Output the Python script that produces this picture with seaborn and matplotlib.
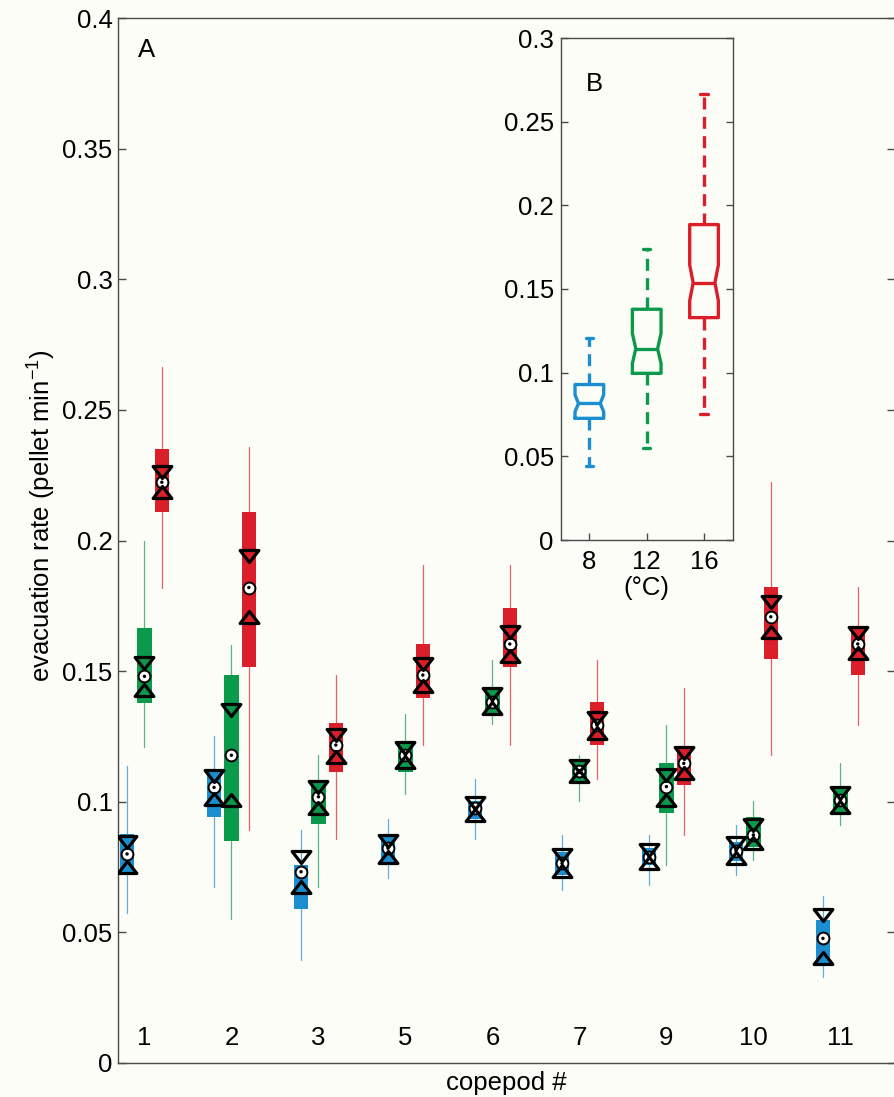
import numpy as np
import matplotlib
matplotlib.use("Agg")
import matplotlib.pyplot as plt
from matplotlib.path import Path
import pandas as pd
import seaborn as sns

# ---------------------------------------------------------------- data
copepods = ["1", "2", "3", "5", "6", "7", "9", "10", "11"]
temperatures = ["8", "12", "16"]

# 8 °C, per copepod: whisker high, q3, upper notch, median, lower notch, q1, whisker low
hi_8 = [0.1137, 0.1253, 0.0892, 0.0933, 0.1086, 0.0873, 0.0873, 0.0911, 0.0639]
q3_8 = [0.0875, 0.1119, 0.0758, 0.0873, 0.1004, 0.0809, 0.0822, 0.0847, 0.0547]
nhi_8 = [0.0847, 0.1099, 0.0790, 0.0851, 0.0994, 0.0796, 0.0815, 0.0841, 0.0567]
med_8 = [0.0800, 0.1055, 0.0732, 0.0822, 0.0975, 0.0764, 0.0790, 0.0813, 0.0477]
nlo_8 = [0.0750, 0.1012, 0.0675, 0.0790, 0.0949, 0.0736, 0.0764, 0.0784, 0.0401]
q1_8 = [0.0718, 0.0942, 0.0588, 0.0764, 0.0933, 0.0720, 0.0758, 0.0775, 0.0375]
lo_8 = [0.0573, 0.0672, 0.0394, 0.0707, 0.0856, 0.0662, 0.0681, 0.0720, 0.0330]

# 12 °C
hi_12 = [0.2000, 0.1600, 0.1179, 0.1336, 0.1543, 0.1179, 0.1294, 0.1004, 0.1147]
q3_12 = [0.1665, 0.1485, 0.1083, 0.1224, 0.1430, 0.1153, 0.1147, 0.0943, 0.1051]
nhi_12 = [0.1532, 0.1353, 0.1058, 0.1205, 0.1412, 0.1137, 0.1102, 0.0911, 0.1035]
med_12 = [0.1480, 0.1178, 0.1019, 0.1179, 0.1383, 0.1119, 0.1058, 0.0873, 0.1007]
nlo_12 = [0.1427, 0.1005, 0.0975, 0.1153, 0.1358, 0.1099, 0.1007, 0.0841, 0.0979]
q1_12 = [0.1379, 0.0850, 0.0915, 0.1115, 0.1341, 0.1081, 0.0956, 0.0826, 0.0958]
lo_12 = [0.1210, 0.0552, 0.0672, 0.1030, 0.1298, 0.1004, 0.0758, 0.0777, 0.0911]

# 16 °C
hi_16 = [0.2665, 0.2359, 0.1485, 0.1906, 0.1906, 0.1543, 0.1434, 0.2225, 0.1821]
q3_16 = [0.2352, 0.2108, 0.1303, 0.1604, 0.1743, 0.1383, 0.1213, 0.1823, 0.1670]
nhi_16 = [0.2263, 0.1941, 0.1256, 0.1527, 0.1651, 0.1319, 0.1185, 0.1766, 0.1645]
med_16 = [0.2223, 0.1820, 0.1217, 0.1485, 0.1604, 0.1294, 0.1147, 0.1708, 0.1604]
nlo_16 = [0.2185, 0.1707, 0.1173, 0.1443, 0.1558, 0.1262, 0.1109, 0.1651, 0.1568]
q1_16 = [0.2110, 0.1516, 0.1115, 0.1396, 0.1515, 0.1217, 0.1064, 0.1545, 0.1485]
lo_16 = [0.1820, 0.0892, 0.0856, 0.1217, 0.1217, 0.1086, 0.0873, 0.1179, 0.1294]

# all copepods pooled, per temperature (8, 12, 16 °C)
pool_hi = [0.1210, 0.1740, 0.2663]
pool_q3 = [0.0929, 0.1379, 0.1885]
pool_nhi = [0.0868, 0.1235, 0.1644]
pool_med = [0.0816, 0.1143, 0.1538]
pool_nlo = [0.0767, 0.1055, 0.1430]
pool_q1 = [0.0727, 0.0996, 0.1329]
pool_lo = [0.0441, 0.0549, 0.0753]

main_ticks = [0, 0.05, 0.1, 0.15, 0.2, 0.25, 0.3, 0.35, 0.4]
main_ticklabels = ["0", "0.05", "0.1", "0.15", "0.2", "0.25", "0.3", "0.35", "0.4"]
inset_ticks = [0, 0.05, 0.1, 0.15, 0.2, 0.25, 0.3]
inset_ticklabels = ["0", "0.05", "0.1", "0.15", "0.2", "0.25", "0.3"]

# ---------------------------------------------------------------- style
sns.set_style("ticks")
plt.rcParams["font.family"] = ["Liberation Sans", "DejaVu Sans"]
plt.rcParams["mathtext.default"] = "regular"
for key in ("text.color", "axes.labelcolor", "xtick.labelcolor", "ytick.labelcolor"):
    plt.rcParams[key] = "black"
BG = "#FDFDF8"
AXC = "#4A4A4A"
FS = 18.5
palette = ["#1A8ECF", "#0B9A4B", "#DA1F2B"]

fig = plt.figure(figsize=(8.94, 10.97), dpi=100, facecolor=BG)

W, H = 894.0, 1097.0
ax = fig.add_axes([118 / W, 34 / H, 777 / W, 1045 / H], facecolor=BG)

series = [
    (hi_8, q3_8, nhi_8, med_8, nlo_8, q1_8, lo_8),
    (hi_12, q3_12, nhi_12, med_12, nlo_12, q1_12, lo_12),
    (hi_16, q3_16, nhi_16, med_16, nlo_16, q1_16, lo_16),
]

# triangle markers for the notch limits (wider than tall)
tri_down = Path([(-1, 0.64), (1, 0.64), (0, -0.64), (-1, 0.64)],
                [Path.MOVETO, Path.LINETO, Path.LINETO, Path.CLOSEPOLY])
tri_up = Path([(-1, -0.64), (1, -0.64), (0, 0.64), (-1, -0.64)],
              [Path.MOVETO, Path.LINETO, Path.LINETO, Path.CLOSEPOLY])

rows = []
for j, (vals, color) in enumerate(zip(series, palette)):
    hi, q3, nhi, med, nlo, q1, lo = vals
    pos = [5 * k + j for k in range(len(copepods))]
    stats = [dict(med=m, q1=a, q3=b, whislo=l, whishi=h, cilo=cl, cihi=ch, fliers=[])
             for m, a, b, l, h, cl, ch in zip(med, q1, q3, lo, hi, nlo, nhi)]
    ax.bxp(stats, positions=pos, widths=0.82, patch_artist=True,
           showcaps=False, showfliers=False, manage_ticks=False,
           boxprops=dict(facecolor=color, edgecolor="none", linewidth=0),
           whiskerprops=dict(color=color, linewidth=0.9, alpha=0.7),
           medianprops=dict(linewidth=0))
    for p, m, ch, cl in zip(pos, med, nhi, nlo):
        rows.append(dict(pos=p, med=m, nhi=ch, nlo=cl))

marks = pd.DataFrame(rows)
# median: white circle with a black centre dot
sns.scatterplot(data=marks, x="pos", y="med", color="white", edgecolor="black",
                linewidth=1.4, s=72, zorder=5, ax=ax, legend=False)
sns.scatterplot(data=marks, x="pos", y="med", color="black", edgecolor="none",
                s=6, zorder=6, ax=ax, legend=False)
# notch limits
ax.plot(marks["pos"], marks["nhi"], linestyle="none", marker=tri_down, ms=13.5,
        mfc="none", mec="black", mew=2.3, zorder=7)
ax.plot(marks["pos"], marks["nlo"], linestyle="none", marker=tri_up, ms=13.5,
        mfc="none", mec="black", mew=2.3, zorder=7)

# group labels inside the axes
for k, name in enumerate(copepods):
    ax.text(5 * k + 1, 0.0096, name, ha="center", va="center", fontsize=FS)

ax.set_xlim(-0.52, 44.14)
ax.set_ylim(0, 0.4)
ax.set_xticks([])
ax.set_yticks(main_ticks)
ax.set_yticklabels(main_ticklabels)
ax.tick_params(axis="y", direction="in", length=6, width=1.0, color=AXC,
               labelsize=FS, pad=4, right=True)
for s in ax.spines.values():
    s.set_visible(True)
    s.set_color(AXC)
    s.set_linewidth(1.0)
ax.set_xlabel("copepod #", fontsize=FS, labelpad=6)
ax.set_ylabel("evacuation rate (pellet min$^{-1}$)", fontsize=FS)
ax.yaxis.set_label_coords(-0.098, 0.524)
ax.yaxis.label.set_verticalalignment("center")
ax.text(0.037, 0.969, "A", transform=ax.transAxes, ha="center", va="center",
        fontsize=FS)

# ---------------------------------------------------------------- inset
axi = fig.add_axes([560.7 / W, 557 / H, 172 / W, 502 / H], facecolor=BG)
NOTCH_HALF = 0.19
for i, color in enumerate(palette):
    st = [dict(med=pool_med[i], q1=pool_q1[i], q3=pool_q3[i], whislo=pool_lo[i],
               whishi=pool_hi[i], cilo=pool_nlo[i], cihi=pool_nhi[i], fliers=[])]
    res = axi.bxp(st, positions=[i + 1], widths=0.5, shownotches=True,
                  showfliers=False, manage_ticks=False, capwidths=0.13,
                  boxprops=dict(color=color, linewidth=2.4),
                  whiskerprops=dict(color=color, linewidth=2.4, linestyle=(0, (3.6, 2.2))),
                  capprops=dict(color=color, linewidth=2.4),
                  medianprops=dict(color=color, linewidth=2.4))
    p = i + 1
    box = res["boxes"][0]
    x = np.array(box.get_xdata(), dtype=float)
    x[3] = p + NOTCH_HALF
    x[8] = p - NOTCH_HALF
    box.set_xdata(x)
    res["medians"][0].set_xdata([p - NOTCH_HALF, p + NOTCH_HALF])

axi.set_xlim(0.5, 3.5)
axi.set_ylim(0, 0.3)
axi.set_xticks([1, 2, 3])
axi.set_xticklabels(temperatures)
axi.set_yticks(inset_ticks)
axi.set_yticklabels(inset_ticklabels)
axi.tick_params(axis="both", direction="in", length=5, width=1.0, color=AXC,
                labelsize=FS, right=True)
axi.tick_params(axis="y", pad=5)
axi.tick_params(axis="x", pad=7)
for s in axi.spines.values():
    s.set_visible(True)
    s.set_color(AXC)
    s.set_linewidth(1.0)
axi.set_xlabel("(°C)", fontsize=FS, labelpad=2)
axi.text(0.194, 0.908, "B", transform=axi.transAxes, ha="center", va="center",
         fontsize=FS)

fig.savefig("out.png", dpi=100, facecolor=BG)
